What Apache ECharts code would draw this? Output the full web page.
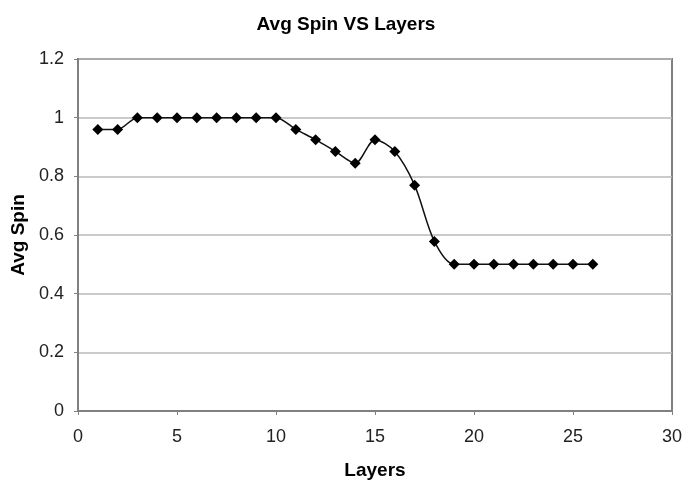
<!DOCTYPE html>
<html><head><meta charset="utf-8">
<script src="https://cdn.jsdelivr.net/npm/echarts@6/dist/echarts.min.js"></script>
<style>html,body{margin:0;padding:0;background:#fff}#c{width:683px;height:480px}</style>
</head><body><div id="c"></div>
<script>
const layers = [1,2,3,4,5,6,7,8,9,10,11,12,13,14,15,16,17,18,19,20,21,22,23,24,25,26];
const avgSpin = [0.96,0.96,1,1,1,1,1,1,1,1,0.96,0.925,0.885,0.845,0.925,0.885,0.77,0.578,0.5,0.5,0.5,0.5,0.5,0.5,0.5,0.5];
const xTicks = [0,5,10,15,20,25,30];
const yTicks = [0,0.2,0.4,0.6,0.8,1,1.2];

const chart = echarts.init(document.getElementById('c'), null, {renderer:'canvas'});
const font = 'Liberation Sans, Arial, sans-serif';
chart.setOption({
  animation:false,
  backgroundColor:'#fff',
  title:{text:'Avg Spin VS Layers',left:341,top:10,textAlign:'center',
    textStyle:{fontFamily:font,fontSize:19,fontWeight:'bold',color:'#000'}},
  grid:{left:78,top:59,right:11,bottom:69,show:true,borderColor:'#808080',borderWidth:2,
    containLabel:false,outerBoundsMode:'none'},
  xAxis:{type:'value',min:xTicks[0],max:xTicks[xTicks.length-1],interval:5,
    name:'Layers',nameLocation:'middle',nameGap:50,
    nameTextStyle:{fontFamily:font,fontSize:19,fontWeight:'bold',color:'#000'},
    axisLine:{show:true,lineStyle:{color:'#808080',width:2}},
    axisTick:{show:true,length:4,lineStyle:{color:'#808080'}},
    axisLabel:{fontFamily:font,fontSize:18,color:'#222',margin:17},
    splitLine:{show:false}},
  yAxis:{type:'value',min:yTicks[0],max:yTicks[yTicks.length-1],interval:0.2,
    name:'Avg Spin',nameLocation:'middle',nameGap:50,nameRotate:90,
    nameTextStyle:{fontFamily:font,fontSize:19,fontWeight:'bold',color:'#000'},
    axisLine:{show:true,lineStyle:{color:'#808080',width:2}},
    axisTick:{show:true,length:4,lineStyle:{color:'#808080'}},
    axisLabel:{fontFamily:font,fontSize:18,color:'#222',margin:14,
      formatter:v=>String(Math.round(v*10)/10)},
    splitLine:{show:true,lineStyle:{color:'#b8b8b8',width:1.5}}},
  series:[{type:'line',data:layers.map((x,i)=>[x,avgSpin[i]]),
    smooth:0.3,symbol:'diamond',symbolSize:11,
    itemStyle:{color:'#000'},lineStyle:{color:'#111',width:1.5}}]
});
</script></body></html>
